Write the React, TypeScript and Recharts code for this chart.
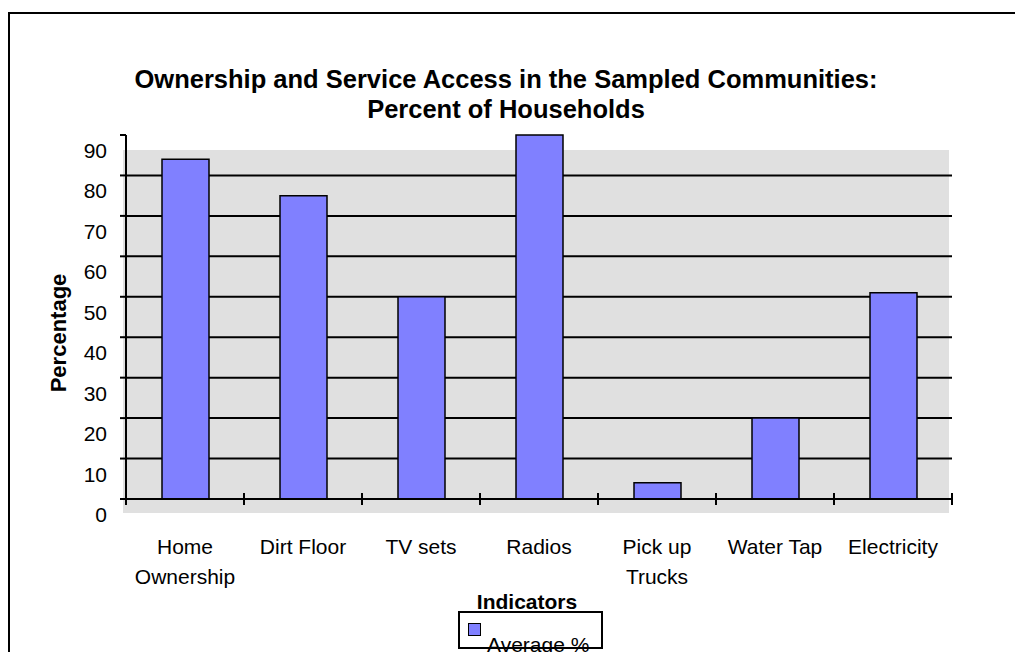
import React from 'react';
import { BarChart, Bar, XAxis, YAxis, CartesianGrid, Legend } from 'recharts';

const categories = ['Home\nOwnership', 'Dirt Floor', 'TV sets', 'Radios', 'Pick up\nTrucks', 'Water Tap', 'Electricity'];
const averagePct = [84, 75, 50, 90, 4, 20, 51];
const yTicks = [0, 10, 20, 30, 40, 50, 60, 70, 80, 90];
const gridValues = [10, 20, 30, 40, 50, 60, 70, 80];

const data = categories.map((name, i) => ({ name, avg: averagePct[i] }));

const FONT = '"Liberation Sans", Arial, Helvetica, sans-serif';
const W = 1015;
const H = 652;
const PLOT_LEFT = 126;
const PLOT_RIGHT = 952;
const PLOT_TOP = 135;
const PLOT_BOTTOM = 499;
const HALF_BAND = (PLOT_RIGHT - PLOT_LEFT) / categories.length / 2;

function CategoryTick(props: any) {
  const { x, y, payload, index } = props;
  const lines = String(payload.value).split('\n');
  const last = index === categories.length - 1;
  return (
    <g>
      <line x1={x - HALF_BAND} x2={x - HALF_BAND} y1={y - 6} y2={y + 6} stroke="#000" strokeWidth={2} />
      {last && <line x1={x + HALF_BAND} x2={x + HALF_BAND} y1={y - 6} y2={y + 6} stroke="#000" strokeWidth={2} />}
      <text x={x} y={y + 55} textAnchor="middle" fontSize={21} fontFamily={FONT} fill="#000">
        {lines.map((l, i) => (
          <tspan key={i} x={x} dy={i === 0 ? 0 : 30}>{l}</tspan>
        ))}
      </text>
    </g>
  );
}

function ValueTick(props: any) {
  const { x, y, payload } = props;
  return (
    <text x={x} y={y + 23} textAnchor="end" fontSize={21} fontFamily={FONT} fill="#000">
      {payload.value}
    </text>
  );
}

function PercentLabel(props: any) {
  const vb = props.viewBox || { x: 0, y: PLOT_TOP, width: PLOT_LEFT, height: PLOT_BOTTOM - PLOT_TOP };
  const x = vb.x + 66;
  const y = vb.y + vb.height / 2 + 16;
  return (
    <text x={x} y={y} transform={`rotate(-90, ${x}, ${y})`} textAnchor="middle" fontSize={22} fontWeight="bold" fontFamily={FONT} fill="#000">
      Percentage
    </text>
  );
}

function IndicatorsLabel(props: any) {
  const vb = props.viewBox || { x: PLOT_LEFT, y: PLOT_BOTTOM, width: PLOT_RIGHT - PLOT_LEFT, height: H - PLOT_BOTTOM };
  return (
    <text x={vb.x + vb.width / 2 - 12} y={vb.y + 110} textAnchor="middle" fontSize={21} fontWeight="bold" fontFamily={FONT} fill="#000">
      Indicators
    </text>
  );
}

function LegendBox(props: any) {
  const item = props.payload && props.payload[0];
  return (
    <div style={{ position: 'relative', width: 145, height: 38, border: '2px solid #000', boxSizing: 'border-box', fontFamily: FONT }}>
      <span style={{ position: 'absolute', left: 8, top: 10, width: 13, height: 13, background: '#8080FF', border: '1.5px solid #000', boxSizing: 'border-box' }} />
      <span style={{ position: 'absolute', left: 27, top: 21, fontSize: 21, lineHeight: '21px', whiteSpace: 'nowrap', color: '#000' }}>
        {item ? item.value : 'Average %'}
      </span>
    </div>
  );
}

export default function App() {
  return (
    <div style={{ position: 'absolute', left: 0, top: 0, width: W, height: H, overflow: 'hidden', background: '#fff', fontFamily: FONT }}>
      {/* outer frame, only top/left edges fall inside the picture */}
      <div style={{ position: 'absolute', left: 8, top: 12, width: W - 8, height: H - 12, borderLeft: '2px solid #000', borderTop: '2px solid #000' }} />
      {/* offset grey plot backdrop */}
      <div style={{ position: 'absolute', left: 123, top: 150, width: 826, height: 363, background: '#E0E0E0' }} />

      <div style={{ position: 'absolute', left: -3, right: 0, top: 64, textAlign: 'center', fontSize: 25.5, lineHeight: '30px', fontWeight: 'bold', color: '#000' }}>
        <div>Ownership and Service Access in the Sampled Communities:</div>
        <div>Percent of Households</div>
      </div>

      <div style={{ position: 'absolute', left: 0, top: 0 }}>
        <BarChart width={W} height={H} data={data} margin={{ top: PLOT_TOP, right: W - PLOT_RIGHT, bottom: 0, left: 0 }}>
          <CartesianGrid horizontal vertical={false} horizontalValues={gridValues} stroke="#000" strokeWidth={2} />
          <XAxis
            dataKey="name"
            height={H - PLOT_BOTTOM}
            interval={0}
            tickSize={0}
            tickMargin={0}
            tickLine={false}
            axisLine={{ stroke: '#000', strokeWidth: 2 }}
            tick={<CategoryTick />}
            label={<IndicatorsLabel />}
          />
          <XAxis xAxisId="top" dataKey="name" orientation="top" height={0} tick={false} tickLine={false} axisLine={{ stroke: '#808080', strokeWidth: 2 }} />
          <YAxis
            width={PLOT_LEFT}
            domain={[0, 90]}
            ticks={yTicks}
            interval={0}
            tickSize={6}
            tickMargin={13}
            tickLine={{ stroke: '#000', strokeWidth: 2 }}
            axisLine={{ stroke: '#000', strokeWidth: 2 }}
            tick={<ValueTick />}
            label={<PercentLabel />}
          />
          <YAxis yAxisId="right" orientation="right" width={0} domain={[0, 90]} tick={false} tickLine={false} axisLine={{ stroke: '#808080', strokeWidth: 2 }} />
          <Legend
            layout="horizontal"
            align="center"
            verticalAlign="middle"
            content={<LegendBox />}
            wrapperStyle={{ left: 458, top: 611, width: 145, height: 38 }}
          />
          <Bar dataKey="avg" name="Average %" fill="#8080FF" stroke="#000" strokeWidth={1.5} barSize={47} isAnimationActive={false} />
        </BarChart>
      </div>
    </div>
  );
}
